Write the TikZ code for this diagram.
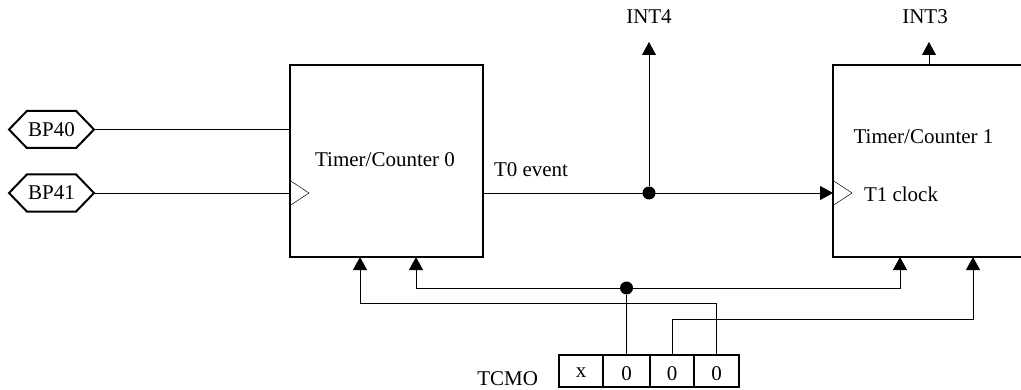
\documentclass[tikz,border=0pt]{standalone}
\usepackage{fontspec}
\setmainfont{Liberation Serif}
\usetikzlibrary{arrows.meta, positioning, shapes.symbols}

\begin{document}
\begin{tikzpicture}[
      x=1pt, y=1pt,
      node distance=0pt and 0pt,
      every node/.style={font=\fontsize{21}{23}\selectfont, inner sep=0pt, outer sep=0pt},
      blockbox/.style={draw, line width=2pt, minimum width=193pt, minimum height=191pt},
      portbox/.style={draw, line width=2pt, shape=signal, signal to=east and west,
        signal pointer angle=92, minimum width=85pt, minimum height=37pt},
      bitbox/.style={draw, line width=2pt, minimum height=32pt, text height=#1, text depth=0pt},
      bitbox/.default=18pt,
      dot/.style={circle, fill=black, minimum size=13pt},
      sig/.style={line width=0.9pt},
      arrow/.style={sig, -{Triangle[length=13pt, width=14pt]}},
      clk/.style={line width=0.5pt}
    ]
    \useasboundingbox (0,0) rectangle (1021,389);
    % timers
    \node[blockbox] (tc0) at (386.5,228) {};
    \node[blockbox, right=350pt of tc0] (tc1) {};
    \node at (385,229) (tc0name) {Timer/Counter 0};
    \node at (923.5,252) (tc1name) {Timer/Counter 1};
    \node[anchor=west] at (864,195) (t1clock) {T1 clock};
    \node[anchor=west] at (494,219) (t0event) {T0 event};
    % inputs
    \node[portbox] (bp40) at (51.5,259.5) {BP40\hspace{12pt}};
    \node[portbox] (bp41) at (51.5,196) {BP41\hspace{12pt}};
    \draw[sig] (bp40.east) -- (bp40.east -| tc0.west);
    \draw[sig] (bp41.east) -- (bp41.east -| tc0.west);
    \draw[clk] (bp41.east -| tc0.west) ++(0,12.5) -- ++(19,-12.5) -- ++(-19,-12.5);
    \draw[clk] (bp41.east -| tc1.west) ++(0,12.5) -- ++(19,-12.5) -- ++(-19,-12.5);
    % interrupts
    \node (int4) at (649,372) {INT4};
    \node (int3) at (925,372) {INT3};
    \node[dot] (t0dot) at (bp41.east -| int4) {};
    \coordinate (t0out) at (bp41.east -| tc0.east);
    \draw[arrow] (t0out) -- (t0out -| tc1.west);
    \draw[arrow] (t0dot) -- (649,347);
    \draw[arrow] (929,323) -- (929,347);
    % mode register
    \node[bitbox=13.4pt, minimum width=44pt] (bitx) at (581,18) {x};
    \node[bitbox, minimum width=47pt, right=of bitx] (bit2) {0};
    \node[bitbox, minimum width=44pt, right=of bit2] (bit1) {0};
    \node[bitbox, minimum width=45pt, right=of bit1] (bit0) {0};
    \node[left=21pt of bitx.south west, yshift=8pt] (tcmo) {TCMO};
    % mode lines
    \node[dot] (busdot) at (bit2 |- 0,101) {};
    \draw[sig] (bit2.north) -- (busdot);
    \draw[arrow] (busdot) -| (416,132);
    \draw[arrow] (busdot) -| (900,132);
    \draw[arrow] (bit0.north) |- (360,85.5) -- (360,132);
    \draw[arrow] (bit1.north) |- (973,70) -- (973,132);
  \end{tikzpicture}
\end{document}
